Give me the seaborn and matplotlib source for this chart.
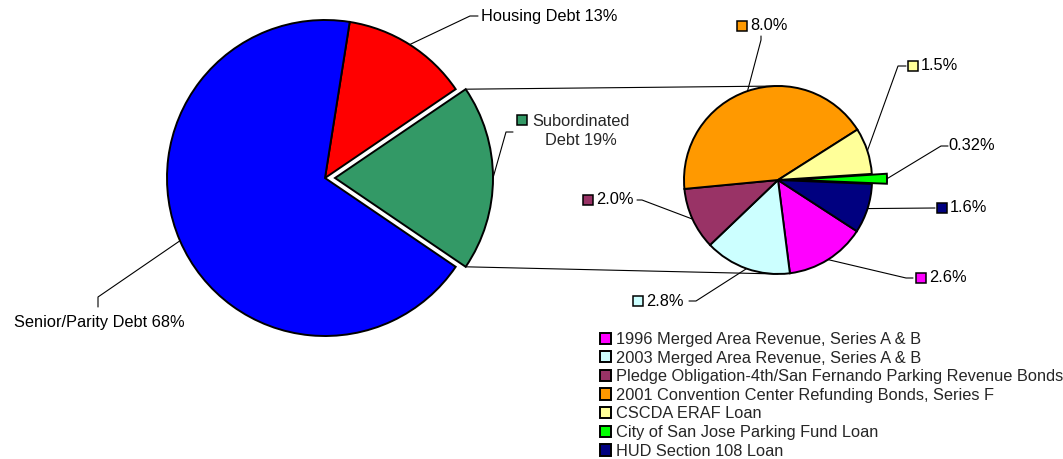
import numpy as np
import matplotlib
matplotlib.use("Agg")
import matplotlib.pyplot as plt
from matplotlib.patches import Rectangle
import seaborn as sns

# ---------------- data ----------------
main_labels = ["Subordinated\nDebt", "Housing Debt", "Senior/Parity Debt"]
main_values = [19, 13, 68]
main_colors = ["#339966", "#FF0000", "#0000FF"]

sub_labels = [
    "1996 Merged Area Revenue, Series A & B",
    "2003 Merged Area Revenue, Series A & B",
    "Pledge Obligation-4th/San Fernando Parking Revenue Bonds",
    "2001 Convention Center Refunding Bonds, Series F",
    "CSCDA ERAF Loan",
    "City of San Jose Parking Fund Loan",
    "HUD Section 108 Loan",
]
sub_values = [2.6, 2.8, 2.0, 8.0, 1.5, 0.32, 1.6]
sub_text = ["2.6%", "2.8%", "2.0%", "8.0%", "1.5%", "0.32%", "1.6%"]
sub_colors = ["#FF00FF", "#CCFFFF", "#993366", "#FF9900", "#FFFF99", "#00FF00", "#000080"]

# ---------------- style ----------------
sns.set_theme(style="white")
plt.rcParams["font.family"] = ["Liberation Sans", "DejaVu Sans"]
FS = 11.8

W, H = 1063, 459
fig = plt.figure(figsize=(W / 100, H / 100), dpi=100)
ax = fig.add_axes([0, 0, 1, 1])


def Y(y):
    return H - y


edge = dict(edgecolor="black", linewidth=1.4)

# main pie (explode is in data units here since radius is in pixels)
main_total = sum(main_values)
main_start = -0.5 * 360 * main_values[0] / main_total
mw, _ = ax.pie(main_values, colors=main_colors, startangle=main_start,
               explode=[10, 0, 0], center=(325, Y(178)), radius=158,
               wedgeprops=edge, frame=True)

# secondary pie
sw, _ = ax.pie(sub_values, colors=sub_colors, startangle=-33, counterclock=False,
               explode=[0, 0, 0, 0, 0, 15, 0], center=(778, Y(180)), radius=94,
               wedgeprops=edge, frame=True)

ax.set_xlim(0, W)
ax.set_ylim(0, H)
ax.set_aspect("equal")
ax.axis("off")

LW = 0.8


def edge_pt(w, ang=None, extra=0.0):
    if ang is None:
        ang = 0.5 * (w.theta1 + w.theta2)
    a = np.deg2rad(ang)
    cx, cy = w.center
    return cx + (w.r + extra) * np.cos(a), cy + (w.r + extra) * np.sin(a)


# connector lines between the pies
g = mw[0]
c2 = (778, Y(180))
r2 = sw[0].r
top = edge_pt(g, g.theta2)
bot = edge_pt(g, g.theta1)
ax.plot([top[0], c2[0] + 4], [top[1], c2[1] + r2], color="black", lw=LW, zorder=0)
ax.plot([bot[0], c2[0]], [bot[1], c2[1] - r2], color="black", lw=LW, zorder=0)


def leader(w, pts):
    s = edge_pt(w)
    xs = [s[0]] + [p[0] for p in pts]
    ys = [s[1]] + [Y(p[1]) for p in pts]
    ax.plot(xs, ys, color="black", lw=LW, zorder=3)


def square(x, y, color):
    ax.add_patch(Rectangle((x, Y(y) - 5), 10, 10, facecolor=color,
                           edgecolor="black", lw=1.1, zorder=4))


def label(x, y, s, ha="left"):
    ax.text(x, Y(y), s, fontsize=FS, ha=ha, va="center", color="black", zorder=5)


# main labels
leader(mw[1], [(470, 16), (478, 16)])
label(481, 16, f"{main_labels[1]} {main_values[1]}%")

leader(mw[2], [(98, 297), (98, 307)])
label(99, 322, f"{main_labels[2]} {main_values[2]}%", ha="center")

leader(mw[0], [(506, 132), (513, 132)])
square(517, 120, main_colors[0])
ax.text(581, Y(131), "Subordinated\nDebt 19%", fontsize=FS, ha="center",
        va="center", multialignment="center", linespacing=1.35, zorder=5)

# secondary labels: (leader points, square x or None, text x, text y)
sub_layout = [
    ([(906, 278), (913, 278)], 916, 929, 278),
    ([(696, 301), (689, 301)], 633, 646, 301),
    ([(642, 200), (637, 200)], 583, 596, 200),
    ([(761, 40), (761, 36)], 737, 750, 26),
    ([(898, 66), (906, 66)], 908, 921, 66),
    ([(941, 146), (948, 146)], None, 948, 146),
    ([(935, 208)], 937, 950, 208),
]
for w, txt, col, (pts, sqx, tx, ty) in zip(sw, sub_text, sub_colors, sub_layout):
    leader(w, pts)
    if sqx is not None:
        square(sqx, ty, col)
    label(tx, ty, txt)

# legend
leg = ax.legend(sw, sub_labels, loc="upper left", bbox_to_anchor=(600, Y(332)),
                bbox_transform=ax.transData, frameon=False, fontsize=FS,
                handlelength=0.68, handleheight=0.68, handletextpad=0.3,
                labelspacing=0.22, borderpad=0, borderaxespad=0)

fig.savefig("out.png", dpi=100, facecolor="white")
